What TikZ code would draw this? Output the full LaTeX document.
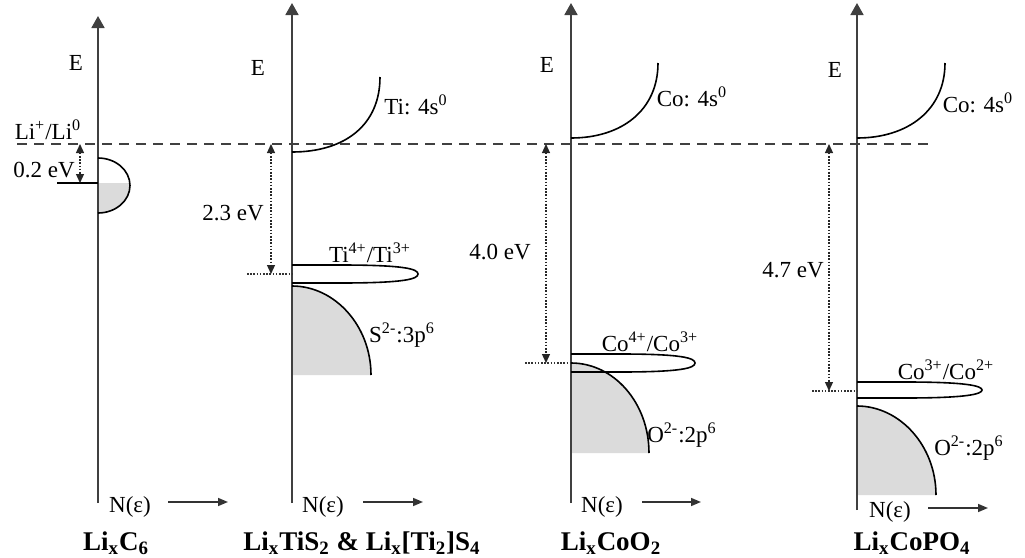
\documentclass[tikz,border=0pt]{standalone}
\usepackage{fontspec}
\setmainfont{Liberation Serif}
\usetikzlibrary{arrows.meta, positioning, calc}
\tikzset{
  axis/.style={draw=black!75, line width=0.9pt, -{Triangle[length=6pt, width=6.5pt]}},
  nline/.style={draw=black!80, line width=0.8pt, -{Triangle[length=5pt, width=4pt]}},
  vacuum/.style={draw=black!75, line width=0.7pt, dash pattern=on 5pt off 3.5pt},
  fermi/.style={draw=black!80, line width=0.7pt, dash pattern=on 0.8pt off 0.8pt},
  gap/.style={draw=black!85, line width=0.6pt, dash pattern=on 0.8pt off 0.8pt, {Triangle[length=4.5pt, width=4pt]}-{Triangle[length=4.5pt, width=4pt]}},
  band/.style={draw=black, line width=0.8pt},
  filled/.style={fill=black!14},
  lbl/.style={font=\fontsize{11.5}{13}\selectfont, inner sep=1pt},
  cname/.style={font=\fontsize{13.5}{15}\selectfont\bfseries, inner sep=1pt}
}

\begin{document}
\begin{tikzpicture}[x=0.5pt, y=-0.5pt]
  \useasboundingbox (0,0) rectangle (1025,558);

  % Fills
  \begin{scope}
    \clip (98,183) rectangle (140,220);
    \fill[filled] (98,158) arc[start angle=90, end angle=-90, x radius=16pt, y radius=13.75pt] -- cycle;
  \end{scope}
  \fill[filled] (292,286) .. controls (335,286) and (371,326) .. (371,375) -- (292,375) -- cycle;
  \fill[filled] (571,363) .. controls (614,363) and (649,403) .. (649,453) -- (571,453) -- cycle;
  \fill[filled] (857,406) .. controls (900,406) and (936,446) .. (936,495) -- (857,495) -- cycle;

  % Coordenadas
  \coordinate (ax1b) at (98,503);  \coordinate (ax1t) at (98,16);
  \coordinate (ax2b) at (292,503); \coordinate (ax2t) at (292,3);
  \coordinate (ax3b) at (571,503); \coordinate (ax3t) at (571,3);
  \coordinate (ax4b) at (857,510); \coordinate (ax4t) at (857,3);
  \coordinate (vl) at (17,144);    \coordinate (vr) at (932,144);

  % Axes
  \draw[axis] (ax1b) -- (ax1t);
  \draw[axis] (ax2b) -- (ax2t);
  \draw[axis] (ax3b) -- (ax3t);
  \draw[axis] (ax4b) -- (ax4t);

  % Li+/Li0 level
  \draw[vacuum] (vl) -- (vr);

  % Bands
  \draw[band] (98,158) arc[start angle=90, end angle=-90, x radius=16pt, y radius=13.75pt];
  \draw[band] (292,152) .. controls (345,152) and (380,125) .. (380,77);
  \draw[band] (292,265) -- (340,265) .. controls (405,265) and (418,269) .. (418,274)
              .. controls (418,279) and (405,283) .. (340,283) -- (292,283);
  \draw[band] (292,286) .. controls (335,286) and (371,326) .. (371,375);
  \draw[band] (571,138) .. controls (622,138) and (658,110) .. (658,63);
  \draw[band] (571,354) -- (620,354) .. controls (682,354) and (695,358) .. (695,363)
              .. controls (695,368) and (682,372) .. (620,372) -- (571,372);
  \draw[band] (571,363) .. controls (614,363) and (649,403) .. (649,453);
  \draw[band] (857,138) .. controls (908,138) and (945,110) .. (945,63);
  \draw[band] (857,382) -- (905,382) .. controls (968,382) and (982,386) .. (982,390)
              .. controls (982,394) and (968,398) .. (905,398) -- (857,398);
  \draw[band] (857,406) .. controls (900,406) and (936,446) .. (936,495);

  % Fermi levels
  \coordinate (f1l) at (57,183);  \coordinate (f1r) at (98,183);
  \coordinate (f2l) at (247,274); \coordinate (f2r) at (292,274);
  \coordinate (f3l) at (525,363); \coordinate (f3r) at (571,363);
  \coordinate (f4l) at (812,391); \coordinate (f4r) at (857,391);
  \draw[band] (f1l) -- (f1r);
  \draw[fermi] (f2l) -- (f2r);
  \draw[fermi] (f3l) -- (f3r);
  \draw[fermi] (f4l) -- (f4r);

  % Gaps
  \coordinate (g1t) at (80,144);  \coordinate (g1b) at (80,183);
  \coordinate (g2t) at (271,144); \coordinate (g2b) at (271,274);
  \coordinate (g3t) at (546,144); \coordinate (g3b) at (546,363);
  \coordinate (g4t) at (829,144); \coordinate (g4b) at (829,391);
  \draw[gap] (g1t) -- (g1b);
  \draw[gap] (g2t) -- (g2b);
  \draw[gap] (g3t) -- (g3b);
  \draw[gap] (g4t) -- (g4b);

  % Labels
  \node (e1) [lbl] at (76,63) {E};
  \node (e2) [lbl] at (258,68) {E};
  \node (e3) [lbl] at (547,65) {E};
  \node (e4) [lbl] at (835,70) {E};
  \node (lili) [lbl] at (48,130) {Li\textsuperscript{+}/Li\textsuperscript{0}};
  \node (gap1) [lbl] at (44,170) {0.2 eV};
  \node (gap2) [lbl] at (233,213) {2.3 eV};
  \node (gap3) [lbl] at (500,252) {4.0 eV};
  \node (gap4) [lbl] at (793,270) {4.7 eV};
  \node (ti4s) [lbl] at (416,105) {Ti: 4s\textsuperscript{0}};
  \node (co4s3) [lbl] at (692,97) {Co: 4s\textsuperscript{0}};
  \node (co4s4) [lbl] at (978,103) {Co: 4s\textsuperscript{0}};
  \node (tired) [lbl] at (370,253) {Ti\textsuperscript{4+}/Ti\textsuperscript{3+}};
  \node (cored3) [lbl] at (650,342) {Co\textsuperscript{4+}/Co\textsuperscript{3+}};
  \node (cored4) [lbl] at (946,370) {Co\textsuperscript{3+}/Co\textsuperscript{2+}};
  \node (s3p) [lbl] at (402,335) {S\textsuperscript{2-}:3p\textsuperscript{6}};
  \node (o2p3) [lbl] at (682,435) {O\textsuperscript{2-}:2p\textsuperscript{6}};
  \node (o2p4) [lbl] at (969,448) {O\textsuperscript{2-}:2p\textsuperscript{6}};

  % N(e) axes
  \node (n1) [lbl] at (130,507) {N(ε)};
  \node (n2) [lbl] at (323,507) {N(ε)};
  \node (n3) [lbl] at (602,507) {N(ε)};
  \node (n4) [lbl] at (890,512) {N(ε)};
  \coordinate (n1a) at (168,502); \coordinate (n1b) at (228,502);
  \coordinate (n2a) at (363,502); \coordinate (n2b) at (423,502);
  \coordinate (n3a) at (642,502); \coordinate (n3b) at (701,502);
  \coordinate (n4a) at (928,508); \coordinate (n4b) at (988,508);
  \draw[nline] (n1a) -- (n1b);
  \draw[nline] (n2a) -- (n2b);
  \draw[nline] (n3a) -- (n3b);
  \draw[nline] (n4a) -- (n4b);

  % Compounds
  \node (c1) [cname] at (116,543) {Li\textsubscript{x}C\textsubscript{6}};
  \node (c2) [cname] at (362,543) {Li\textsubscript{x}TiS\textsubscript{2} \& Li\textsubscript{x}[Ti\textsubscript{2}]S\textsubscript{4}};
  \node (c3) [cname] at (611,543) {Li\textsubscript{x}CoO\textsubscript{2}};
  \node (c4) [cname] at (912,543) {Li\textsubscript{x}CoPO\textsubscript{4}};

\end{tikzpicture}
\end{document}
